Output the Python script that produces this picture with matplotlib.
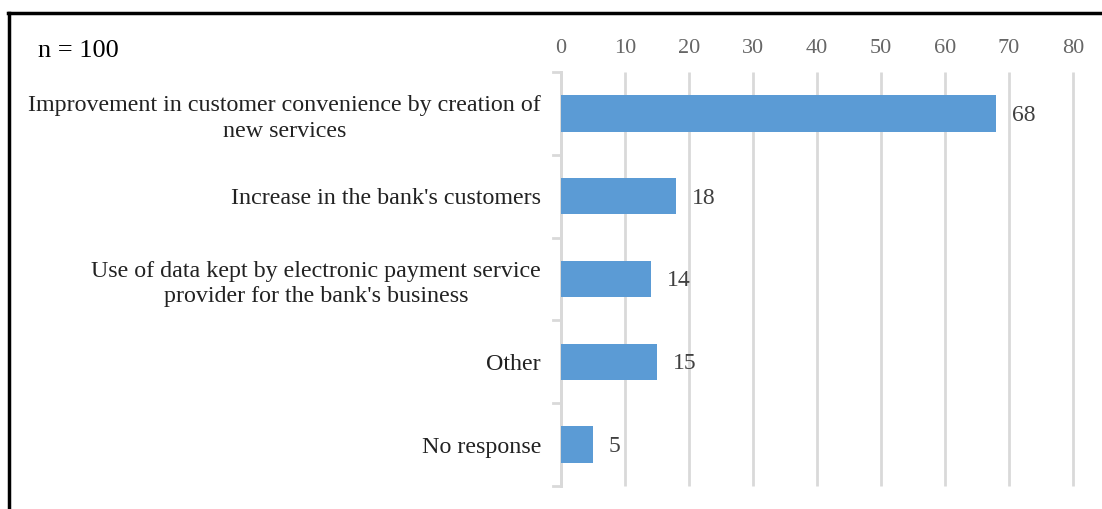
import matplotlib.pyplot as plt
from matplotlib.lines import Line2D
from matplotlib.transforms import offset_copy

# survey answers, n = 100
categories = [
    "Improvement in customer convenience by creation of\nnew services",
    "Increase in the bank's customers",
    "Use of data kept by electronic payment service\nprovider for the bank's business",
    "Other",
    "No response",
]
values = [68, 18, 14, 15, 5]
x_ticks = [0, 10, 20, 30, 40, 50, 60, 70, 80]

plt.rcParams['font.family'] = ['Liberation Serif', 'DejaVu Serif']

bar_color = '#5B9BD5'
grid_color = '#D9D9D9'

fig = plt.figure(figsize=(11.02, 5.09), dpi=100)
ax = fig.add_axes([561 / 1102, 1 - 486 / 509, 512 / 1102, 414 / 509])

ypos = list(range(len(categories)))
ax.barh(ypos, values, height=0.44, color=bar_color, zorder=3)

ax.set_xlim(0, 80)
ax.set_ylim(len(categories) - 0.5, -0.5)
ax.set_xticks(x_ticks)
ax.xaxis.tick_top()
ax.tick_params(axis='x', length=0, pad=10, labelsize=16, labelcolor='#666666')
ax.grid(axis='x', color=grid_color, linewidth=2, zorder=0)
for gl in ax.get_xgridlines():
    gl.set_clip_on(False)
    gl.set_solid_capstyle('butt')

# category labels, centred lines, right edge next to the axis
ax.set_yticks(ypos)
ax.set_yticklabels(categories, fontsize=17.3, color='#222222', ha='center',
                   linespacing=1.3)
ax.tick_params(axis='y', length=0, pad=0)
fig.canvas.draw()
r = fig.canvas.get_renderer()
for lab in ax.get_yticklabels():
    bb = lab.get_window_extent(r)
    lab.set_transform(offset_copy(lab.get_transform(), fig=fig,
                                  x=-(bb.width / 2 + 20), units='dots'))

for s in ['top', 'right', 'bottom']:
    ax.spines[s].set_visible(False)
ax.spines['left'].set_color(grid_color)
ax.spines['left'].set_linewidth(2)

# outward ticks on category boundaries
for b in [i - 0.5 for i in range(len(categories) + 1)]:
    ax.plot([-1.3, 0], [b, b], color=grid_color, linewidth=2,
            clip_on=False, zorder=2)

for y, v in zip(ypos, values):
    ax.annotate(str(v), (v, y), xytext=(16, -2), textcoords='offset pixels',
                va='center', ha='left', fontsize=17, color='#404040', zorder=4)

fig.text(38 / 1102, 1 - 51 / 509, "n = 100", fontsize=19, va='center', ha='left')

# frame lines
fig.add_artist(Line2D([9 / 1102, 9 / 1102], [0, 1 - 13 / 509],
                      transform=fig.transFigure, color='black', linewidth=2.5))
fig.add_artist(Line2D([8 / 1102, 1], [1 - 13 / 509, 1 - 13 / 509],
                      transform=fig.transFigure, color='black', linewidth=2.5))

fig.savefig('out.png', dpi=100)
